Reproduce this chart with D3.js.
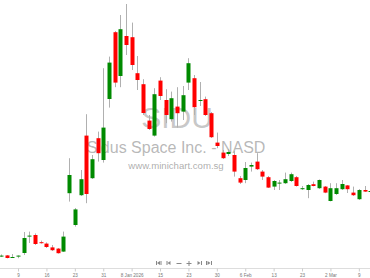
<!DOCTYPE html>
<html>
<head>
<meta charset="utf-8">
<script src="https://d3js.org/d3.v7.min.js"></script>
<style>
  body { margin: 0; background: #fff; }
  svg { display: block; font-family: "Liberation Sans", Arial, sans-serif; }
</style>
</head>
<body>
<div id="chart-container"></div>
<script>
// trading days, Dec 2025 - Mar 2026
const dates = [
  "2025-12-04","2025-12-05","2025-12-08","2025-12-09","2025-12-10","2025-12-11","2025-12-12",
  "2025-12-15","2025-12-16","2025-12-17","2025-12-18","2025-12-19","2025-12-22","2025-12-23",
  "2025-12-24","2025-12-26","2025-12-29","2025-12-30","2025-12-31","2026-01-02","2026-01-05",
  "2026-01-06","2026-01-07","2026-01-08","2026-01-09","2026-01-12","2026-01-13","2026-01-14",
  "2026-01-15","2026-01-16","2026-01-20","2026-01-21","2026-01-22","2026-01-23","2026-01-26",
  "2026-01-27","2026-01-28","2026-01-29","2026-01-30","2026-02-02","2026-02-03","2026-02-04",
  "2026-02-05","2026-02-06","2026-02-09","2026-02-10","2026-02-11","2026-02-12","2026-02-13",
  "2026-02-17","2026-02-18","2026-02-19","2026-02-20","2026-02-23","2026-02-24","2026-02-25",
  "2026-02-26","2026-02-27","2026-03-02","2026-03-03","2026-03-04","2026-03-05","2026-03-06",
  "2026-03-09","2026-03-10","2026-03-11"
];

const opens = [
  2.21,2.23,2.15,2.18,2.35,3.17,3.25,2.89,2.82,2.63,2.57,2.42,5.34,3.75,5.24,8.22,6.09,8.09,
  7.00,10.05,13.39,11.20,13.20,13.14,11.34,10.79,8.97,8.22,10.97,10.00,9.04,9.67,9.42,10.87,
  11.09,10.00,10.04,9.34,7.87,7.37,7.30,7.25,6.09,6.00,6.67,6.92,6.42,6.14,5.67,5.86,5.84,
  5.95,6.14,5.58,5.50,5.79,5.59,5.67,4.95,5.30,5.54,5.73,5.37,5.04,5.50,5.40
];
const highs = [
  2.28,2.25,2.30,2.23,3.40,3.42,3.33,2.97,2.88,2.75,2.60,3.42,7.09,4.60,6.50,9.29,7.25,8.42,
  11.59,12.17,13.45,14.25,14.80,13.87,12.20,11.04,9.25,10.59,11.14,10.54,10.42,10.64,10.70,12.09,
  11.25,10.90,10.17,9.40,8.37,7.50,7.55,7.45,6.20,6.90,6.87,7.34,6.50,6.20,6.00,6.00,6.37,
  6.37,6.20,5.70,5.80,5.92,6.03,5.70,5.84,5.84,6.00,5.75,5.67,5.55,5.70,5.55
];
const lows = [
  2.15,2.08,2.14,2.09,2.25,2.85,2.75,2.82,2.60,2.45,2.32,2.40,4.92,3.67,5.20,4.84,6.05,6.92,
  6.87,9.62,10.64,10.64,12.25,11.50,10.50,9.25,8.50,8.17,10.00,8.84,8.92,8.62,9.00,10.50,
  9.25,9.70,9.20,8.10,7.59,7.05,7.20,6.17,5.80,5.84,6.42,6.50,6.00,5.60,5.50,5.50,5.80,
  5.90,5.67,5.50,5.09,5.68,5.55,5.34,4.93,5.25,5.50,5.35,5.20,5.00,5.40,5.35
];
const closes = [
  2.22,2.10,2.15,2.22,3.10,3.22,2.80,2.84,2.65,2.49,2.34,3.17,6.25,4.53,6.04,5.30,7.04,7.34,
  8.62,11.87,10.87,13.54,12.75,11.75,11.00,9.35,8.55,10.29,10.20,9.25,10.09,9.34,10.24,11.84,
  9.64,10.00,9.25,8.14,7.70,7.09,7.40,6.42,5.87,6.60,6.75,6.54,6.17,5.62,5.95,5.87,6.04,
  6.29,5.70,5.59,5.75,5.70,6.00,5.37,5.59,5.59,5.80,5.54,5.24,5.50,5.42,5.45
];

// x axis ticks (every 5 trading days)
const tickDates = ["2025-12-09","2025-12-16","2025-12-23","2025-12-31","2026-01-08","2026-01-15",
  "2026-01-23","2026-01-30","2026-02-06","2026-02-13","2026-02-23","2026-03-02","2026-03-09"];
const tickLabels = ["9","16","23","31","8 Jan 2026","15","23","30","6 Feb","13","23","2 Mar","9"];

const symbol = "SIDU";
const companyName = "Sidus Space Inc. - NASD";
const siteName = "www.minichart.com.sg";

function createCandleChart(styling) {
  const { width, height, axisY, upColor, downColor, wickColor } = styling;

  // build rows from the arrays
  const data = dates.map((d, i) => ({
    date: d, open: opens[i], high: highs[i], low: lows[i], close: closes[i]
  }));

  // x: one slot per trading day
  const xScale = d3
    .scalePoint()
    .domain(dates)
    .range([1, 370.2]);

  // y: price
  const yScale = d3
    .scaleLinear()
    .domain([2, 15])
    .range([260, 0]);

  d3.select("#chart-container").selectAll("svg").remove();

  const svg = d3
    .select("#chart-container")
    .append("svg")
    .attr("width", width)
    .attr("height", height);

  // watermark behind the candles
  const wm = svg.append("g").attr("text-anchor", "middle");
  wm.append("text")
    .attr("x", 177)
    .attr("y", 128)
    .attr("font-size", 30)
    .attr("fill", "#999")
    .attr("fill-opacity", 0.55)
    .text(symbol);
  wm.append("text")
    .attr("x", 176)
    .attr("y", 153)
    .attr("font-size", 16)
    .attr("fill", "#999")
    .attr("fill-opacity", 0.7)
    .text(companyName);
  wm.append("text")
    .attr("x", 176)
    .attr("y", 169)
    .attr("font-size", 9.6)
    .attr("fill", "#999")
    .attr("fill-opacity", 0.8)
    .text(siteName);

  const candles = svg
    .append("g")
    .selectAll("g")
    .data(data)
    .enter()
    .append("g");

  // wicks
  candles
    .append("line")
    .attr("x1", (d) => Math.round(xScale(d.date)) + 0.5)
    .attr("x2", (d) => Math.round(xScale(d.date)) + 0.5)
    .attr("y1", (d) => yScale(d.high))
    .attr("y2", (d) => yScale(d.low))
    .attr("stroke", wickColor)
    .attr("stroke-width", 1);

  // bodies
  const bodyW = 4;
  candles
    .append("rect")
    .attr("x", (d) => Math.round(xScale(d.date)) + 0.5 - bodyW / 2)
    .attr("y", (d) => yScale(Math.max(d.open, d.close)))
    .attr("width", bodyW)
    .attr("height", (d) =>
      Math.max(1, yScale(Math.min(d.open, d.close)) - yScale(Math.max(d.open, d.close))))
    .attr("fill", (d) => (d.close >= d.open ? upColor : downColor));

  // navigation buttons (decoration)
  const nav = svg.append("g").attr("fill", "#888").attr("stroke", "#888");
  const navY = 263;
  const navX = [158, 168.5, 179, 189, 199.5, 209.5];
  nav.append("path").attr("stroke", "none")
    .attr("d", `M${navX[0] - 2},${navY - 2}h1v4h-1z M${navX[0] + 2},${navY - 2}l-3,2l3,2z M${navX[0] + 2.5},${navY - 2}h1v4h-1z`);
  nav.append("path").attr("stroke", "none")
    .attr("d", `M${navX[1] + 2},${navY - 2}l-3,2l3,2z M${navX[1] - 2},${navY - 2}h1v4h-1z`);
  nav.append("path").attr("stroke-width", 1)
    .attr("d", `M${navX[2] - 2.5},${navY + 0.5}h5`);
  nav.append("path").attr("stroke-width", 1)
    .attr("d", `M${navX[3] - 2.5},${navY + 0.5}h5 M${navX[3]},${navY - 2}v5`);
  nav.append("path").attr("stroke", "none")
    .attr("d", `M${navX[4] - 2},${navY - 2}l3,2l-3,2z M${navX[4] + 1.5},${navY - 2}h1v4h-1z`);
  nav.append("path").attr("stroke", "none")
    .attr("d", `M${navX[5] - 3.5},${navY - 2}h1v4h-1z M${navX[5] - 2},${navY - 2}l3,2l-3,2z M${navX[5] + 1.5},${navY - 2}h1v4h-1z`);

  // separator line above the dates
  svg.append("line")
    .attr("x1", 0)
    .attr("x2", width)
    .attr("y1", axisY + 0.5)
    .attr("y2", axisY + 0.5)
    .attr("stroke", "#ddd");

  // x axis
  const xAxisG = svg
    .append("g")
    .attr("transform", `translate(0, ${axisY + 0.5})`)
    .call(
      d3.axisBottom(xScale)
        .tickValues(tickDates)
        .tickFormat((d, i) => tickLabels[i])
        .tickSize(3)
        .tickSizeOuter(0)
    );
  xAxisG.select(".domain").remove();
  xAxisG.selectAll("line").attr("stroke", "#ccc");
  xAxisG.selectAll("text")
    .attr("y", 5)
    .attr("fill", "#777")
    .attr("font-size", 4.6)
    .attr("font-family", "'Liberation Sans', Arial, sans-serif");
}

createCandleChart({
  width: 370,
  height: 278,
  axisY: 268,
  upColor: "#008a00",
  downColor: "#ff0000",
  wickColor: "#b0b0b0"
});
</script>
</body>
</html>
